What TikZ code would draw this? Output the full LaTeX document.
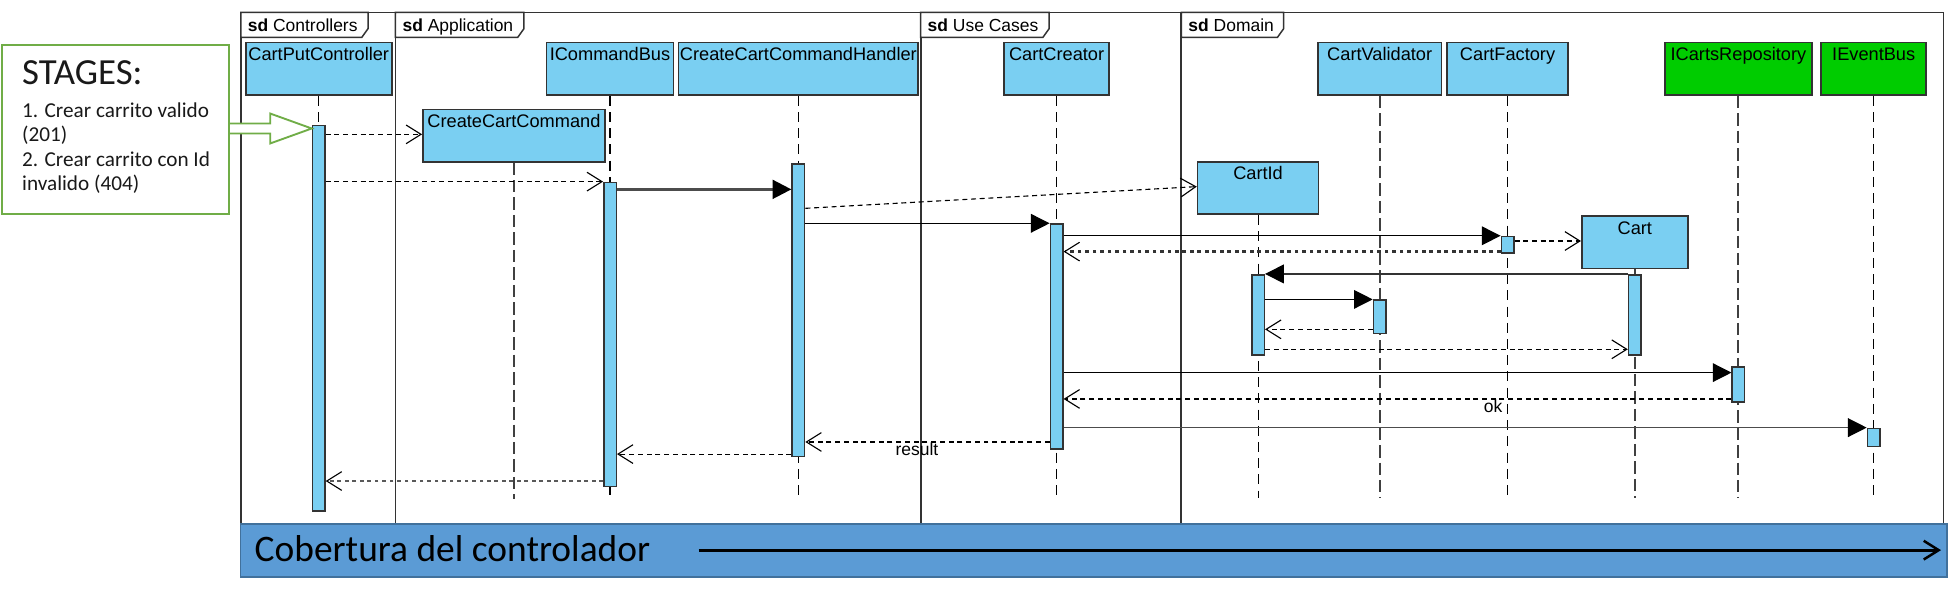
\documentclass[tikz,border=0pt]{standalone}
\usepackage{fontspec}
\setmainfont{Liberation Sans}
\newfontfamily\calibri{Carlito}
\usetikzlibrary{arrows.meta}
\definecolor{lblue}{RGB}{122,207,242}
\definecolor{lgreen}{RGB}{0,204,0}
\definecolor{bandfill}{RGB}{91,155,213}
\definecolor{bandborder}{RGB}{65,113,156}
\definecolor{stagegreen}{RGB}{112,173,71}
\definecolor{framegray}{RGB}{51,51,51}
\tikzset{
 frm/.style={draw=framegray, line width=1.5pt},
 tabshape/.style={draw=framegray, line width=1.2pt, fill=white},
 tablbl/.style={anchor=base west, inner sep=0pt, font=\fontsize{14}{16}\selectfont},
 head/.style={draw=framegray, line width=1.3pt, fill=lblue, inner xsep=0pt, inner ysep=0pt,
   text height=14.5pt, text depth=27.5pt, anchor=north, font=\fontsize{14.6}{16}\selectfont},
 headg/.style={head, fill=lgreen},
 act/.style={draw=framegray, line width=1.2pt, fill=lblue, minimum width=10pt, inner sep=0pt, anchor=north},
 life/.style={draw=black, line width=0.9pt, dash pattern=on 8pt off 5pt},
 lifethick/.style={draw=black!75, line width=1.6pt, dash pattern=on 10pt off 4pt},
 call/.style={draw=black, line width=1pt, -{Triangle[length=15pt,width=15pt,color=black]}},
 ret/.style={draw=black, line width=0.9pt, dash pattern=on 4pt off 3pt, -{Straight Barb[length=12pt,width=15pt,line width=0.9pt]}},
 retdot/.style={draw=black!80, line width=1.8pt, dash pattern=on 3pt off 3pt, -{Straight Barb[length=12pt,width=15pt,line width=0.9pt,color=black]}},
 msglbl/.style={font=\fontsize{14}{16}\selectfont, inner sep=0pt},
 stagetxt/.style={anchor=base west, inner sep=0pt, text=black!90},
}
\begin{document}
\begin{tikzpicture}[x=1pt,y=-1pt]
\useasboundingbox (0,0) rectangle (1568,473.8);

% frames
\draw[frm] (193,10) rectangle (317,461);
\draw[frm] (317,10) rectangle (738,461);
\draw[frm] (738,10) rectangle (947,461);
\draw[frm] (947,10) rectangle (1558,461);

% lifeline heads
\node[head, minimum width=117pt] (cpc) at (255.5,33.5) {CartPutController};
\node[head, minimum width=102pt] (icb) at (489,33.5) {ICommandBus};
\node[head, minimum width=192pt] (cch) at (640,33.5) {CreateCartCommandHandler};
\node[head, minimum width=84pt] (ccr) at (847,33.5) {CartCreator};
\node[head, minimum width=99pt] (cv) at (1106,33.5) {CartValidator};
\node[head, minimum width=97pt] (cf) at (1208.5,33.5) {CartFactory};
\node[headg, minimum width=118pt] (icr) at (1393.6,33.5) {ICartsRepository};
\node[headg, minimum width=84pt] (ieb) at (1502,33.5) {IEventBus};
\node[head, minimum width=146pt] (ccc) at (412,87) {CreateCartCommand};
\node[head, minimum width=97pt] (cid) at (1008.5,129) {CartId};
\node[head, minimum width=85pt] (cart) at (1310.5,172.5) {Cart};

% lifelines
\draw[life] (cpc.south) -- (cpc.south |- 0,399);
\draw[life] (icb.south) -- (icb.south |- 0,399);
\draw[life] (cch.south) -- (cch.south |- 0,399);
\draw[life] (ccr.south) -- (ccr.south |- 0,399);
\draw[lifethick] (cv.south) -- (cv.south |- 0,399);
\draw[life] (cf.south) -- (cf.south |- 0,399);
\draw[lifethick] (icr.south) -- (icr.south |- 0,399);
\draw[life] (ieb.south) -- (ieb.south |- 0,399);
\draw[lifethick] (ccc.south) -- (ccc.south |- 0,400);
\draw[life] (cid.south) -- (cid.south |- 0,399);
\draw[lifethick] (cart.south) -- (cart.south |- 0,399);

% activations
\node[act, minimum height=309pt] (cpcA) at (255.5,100.2) {};
\node[act, minimum height=243.7pt] (icbA) at (489,145.6) {};
\node[act, minimum height=234.3pt] (cchA) at (640,131) {};
\node[act, minimum height=180.4pt] (ccrA) at (847,179) {};
\node[act, minimum height=13.3pt] (cfA) at (1208.5,189) {};
\node[act, minimum height=64pt] (cidA) at (1008.5,219.9) {};
\node[act, minimum height=27pt] (cvA) at (1106,239.7) {};
\node[act, minimum height=64pt] (cartA) at (1310.5,219.9) {};
\node[act, minimum height=28pt] (icrA) at (1393.6,293.5) {};
\node[act, minimum height=14.7pt] (iebA) at (1502,342.8) {};

% messages
\draw[ret] (cpcA.east |- 0,107.7) -- (ccc.west |- 0,107.7);
\draw[ret] (cpcA.east |- 0,145.6) -- (icbA.west |- 0,145.6);
\draw[call, draw=black!70, line width=2pt] (icbA.east |- 0,151.8) -- (cchA.west |- 0,151.8);
\draw[ret] (cchA.east |- 0,167) -- (cid.west |- 0,149.6);
\draw[call] (cchA.east |- 0,179) -- (ccrA.west |- 0,179);
\draw[call] (ccrA.east |- 0,189) -- (cfA.west |- 0,189);
\draw[ret] (cfA.east |- 0,193.2) -- (cart.west |- 0,193.2);
\draw[retdot] (cfA.west |- 0,201.7) -- (ccrA.east |- 0,201.7);
\draw[call, draw=black!80] (cartA.west |- 0,219.6) -- (cidA.east |- 0,219.6);
\draw[call] (cidA.east |- 0,240) -- (cvA.west |- 0,240);
\draw[ret] (cvA.west |- 0,264) -- (cidA.east |- 0,264);
\draw[ret] (cidA.east |- 0,280) -- (cartA.west |- 0,280);
\draw[call] (ccrA.east |- 0,298.7) -- (icrA.west |- 0,298.7);
\draw[ret] (icrA.west |- 0,319.8) -- (ccrA.east |- 0,319.8);
\node[msglbl] (okL) at (1197,326) {ok};
\draw[call, draw=black!70] (ccrA.east |- 0,342.8) -- (iebA.west |- 0,342.8);
\draw[ret] (ccrA.west |- 0,354.3) -- (cchA.east |- 0,354.3);
\node[msglbl] (resL) at (735,360) {result};
\draw[ret] (cchA.west |- 0,364) -- (icbA.east |- 0,364);
\draw[retdot, draw=black!65] (icbA.west |- 0,385.6) -- (cpcA.east |- 0,385.6);

% frame tabs
\draw[tabshape] (193,10) -- (295,10) -- (295,23) -- (290,30) -- (193,30) -- cycle;
\node[tablbl] (tab1) at (198.5,25) {\textbf{sd} Controllers};
\draw[tabshape] (317,10) -- (420,10) -- (420,23) -- (415,30) -- (317,30) -- cycle;
\node[tablbl] (tab2) at (322.5,25) {\textbf{sd} Application};
\draw[tabshape] (738,10) -- (841,10) -- (841,23) -- (836,30) -- (738,30) -- cycle;
\node[tablbl] (tab3) at (743.5,25) {\textbf{sd} Use Cases};
\draw[tabshape] (947,10) -- (1029,10) -- (1029,23) -- (1024,30) -- (947,30) -- cycle;
\node[tablbl] (tab4) at (952.5,25) {\textbf{sd} Domain};

% stages box
\node[draw=stagegreen, line width=1.5pt, fill=white, minimum width=182pt, minimum height=136pt, anchor=north west, inner sep=0pt] (stages) at (1,35) {};
\node[stagetxt, font=\calibri\fontsize{29.5}{32}\selectfont] (st0) at (17.6,68) {STAGES:};
\node[stagetxt, font=\calibri\fontsize{17}{19}\selectfont] (st1) at (17.6,94) {1. Crear carrito valido};
\node[stagetxt, font=\calibri\fontsize{17}{19}\selectfont] (st2) at (17.6,113.6) {(201)};
\node[stagetxt, font=\calibri\fontsize{17}{19}\selectfont] (st3) at (17.6,133.6) {2. Crear carrito con Id};
\node[stagetxt, font=\calibri\fontsize{17}{19}\selectfont] (st4) at (17.6,153) {invalido (404)};
\draw[draw=stagegreen, line width=1.5pt, fill=white, line join=miter]
  (stages.east |- 0,99) -- (216.6,99) -- (216.6,91) -- (cpcA.west |- 0,103) -- (216.6,115) -- (216.6,107) -- (stages.east |- 0,107);

% coverage band
\node[draw=bandborder, fill=bandfill, line width=1.5pt, minimum width=1368pt, minimum height=43pt, anchor=north west, inner sep=0pt] (bandbox) at (192,419) {};
\node[anchor=base west, inner sep=0pt, font=\calibri\fontsize{30}{32}\selectfont] (bandtxt) at (204,450.5) {Cobertura del controlador};
\coordinate (arrS) at (560,441);
\coordinate (arrE) at (1556,441);
\draw[line width=2.5pt, -{Straight Barb[length=12pt,width=15pt,line width=2pt]}] (arrS) -- (arrE);
\end{tikzpicture}
\end{document}
